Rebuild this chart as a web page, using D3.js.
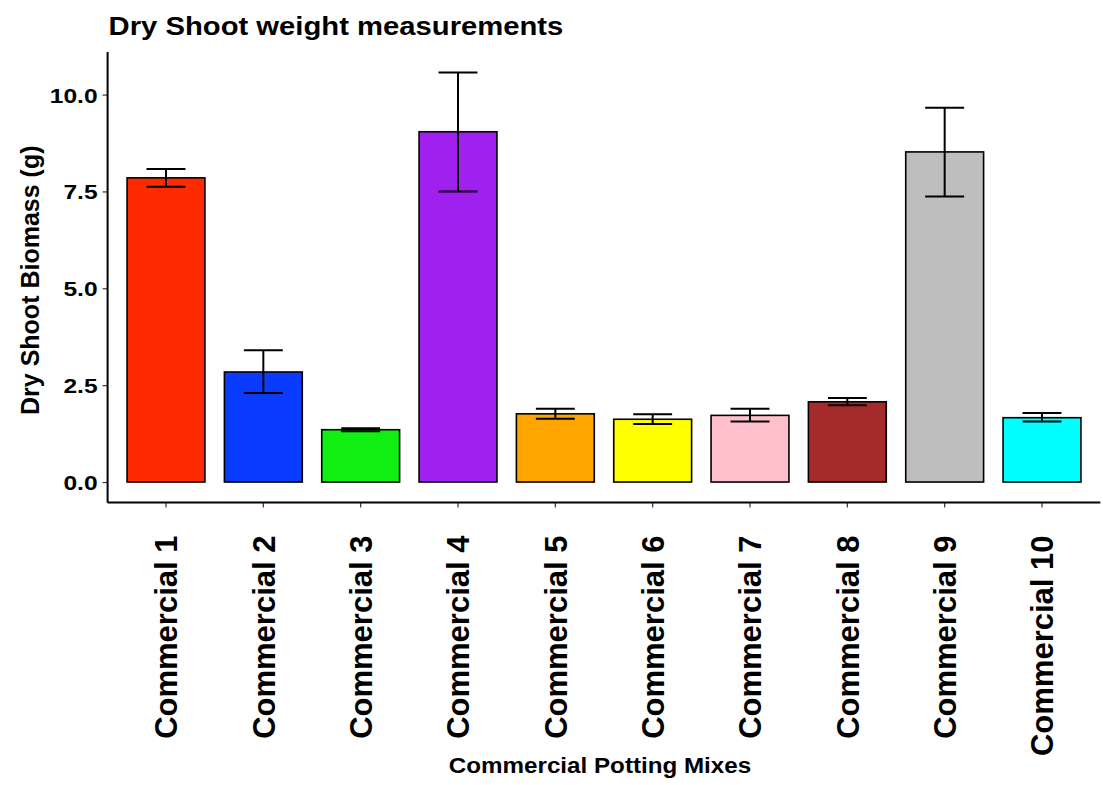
<!DOCTYPE html>
<html>
<head>
<meta charset="utf-8">
<script src="https://cdn.jsdelivr.net/npm/d3@7"></script>
<style>
  body { margin: 0; background: #fff; }
  svg text { font-family: "Liberation Sans", Arial, sans-serif; font-weight: bold; fill: #000; }
</style>
</head>
<body>
<svg id="chart" width="1103" height="785"></svg>
<script>

// Data

const categories = ["Commercial 1", "Commercial 2", "Commercial 3", "Commercial 4", "Commercial 5",
    "Commercial 6", "Commercial 7", "Commercial 8", "Commercial 9", "Commercial 10"];
const means = [7.85, 2.84, 1.35, 9.04, 1.76, 1.62, 1.72, 2.07, 8.52, 1.66];
const lower = [7.62, 2.30, 1.31, 7.50, 1.63, 1.50, 1.56, 1.98, 7.37, 1.56];
const upper = [8.08, 3.40, 1.39, 10.57, 1.89, 1.75, 1.89, 2.17, 9.66, 1.78];
const fills = ["#ff2a00", "#0a3cff", "#11ee11", "#a020f0", "#ffa500",
    "#ffff00", "#ffc0cb", "#a52a2a", "#bebebe", "#00ffff"];
const yTicks = [0, 2.5, 5, 7.5, 10];

const p = {
    left: 107.6,
    right: 1100.4,
    top: 52,
    bottom: 502.5,
    stretch: 1.17   // title and tick text in the picture is a bit wider than it is tall
};

const svg = d3.select("#chart");

const x = d3.scaleBand()
    .domain(categories)
    .range([p.left, p.right])
    .paddingInner(0.2)
    .paddingOuter(0.2);

const yMax = d3.max(upper);
const pad = yMax * 0.05;
const y = d3.scaleLinear()
    .domain([-pad, yMax + pad])
    .range([p.bottom, p.top]);

// Bars

const rows = categories.map((c, i) => ({ c, m: means[i], lo: lower[i], hi: upper[i], fill: fills[i] }));

svg.append("g")
    .selectAll("rect")
    .data(rows)
    .join("rect")
    .attr("x", d => x(d.c))
    .attr("width", x.bandwidth())
    .attr("y", d => y(d.m))
    .attr("height", d => y(0) - y(d.m))
    .attr("fill", d => d.fill)
    .attr("stroke", "#000")
    .attr("stroke-width", 1.6);

// Error bars

const capW = x.step() * 0.4;
const eb = svg.append("g")
    .attr("stroke", "#000")
    .attr("stroke-width", 2)
    .selectAll("g")
    .data(rows)
    .join("g")
    .attr("transform", d => `translate(${x(d.c) + x.bandwidth() / 2},0)`);

eb.append("line")
    .attr("y1", d => y(d.lo))
    .attr("y2", d => y(d.hi));
eb.append("line")
    .attr("x1", -capW / 2).attr("x2", capW / 2)
    .attr("y1", d => y(d.hi)).attr("y2", d => y(d.hi));
eb.append("line")
    .attr("x1", -capW / 2).attr("x2", capW / 2)
    .attr("y1", d => y(d.lo)).attr("y2", d => y(d.lo));

// Axes

const yAxis = svg.append("g")
    .attr("transform", `translate(${p.left},0)`)
    .call(d3.axisLeft(y).tickValues(yTicks).tickFormat(d3.format(".1f")).tickSize(5));
yAxis.select(".domain").remove();
yAxis.selectAll("line").attr("stroke", "#333").attr("stroke-width", 1.2);
yAxis.selectAll("text")
    .style("font-size", "21px")
    .attr("x", 0)
    .attr("dy", "0.36em")
    .attr("transform", `translate(-10,0) scale(${p.stretch},1)`);

const xAxis = svg.append("g")
    .attr("transform", `translate(0,${p.bottom})`)
    .call(d3.axisBottom(x).tickSize(5).tickSizeOuter(0));
xAxis.select(".domain").remove();
xAxis.selectAll("line").attr("stroke", "#333").attr("stroke-width", 1.2);
xAxis.selectAll("text")
    .style("font-size", "31px")
    .attr("text-anchor", "end")
    .attr("x", 0)
    .attr("y", 0)
    .attr("dy", "0.36em")
    .attr("transform", "translate(0,33) rotate(-90)");

svg.append("line")
    .attr("x1", p.left).attr("x2", p.left)
    .attr("y1", p.top).attr("y2", p.bottom)
    .attr("stroke", "#000").attr("stroke-width", 2);
svg.append("line")
    .attr("x1", p.left).attr("x2", p.right)
    .attr("y1", p.bottom).attr("y2", p.bottom)
    .attr("stroke", "#000").attr("stroke-width", 2);

// Titles

svg.append("text")
    .attr("transform", `translate(${p.left + 1},35) scale(${p.stretch},1)`)
    .style("font-size", "25px")
    .text("Dry Shoot weight measurements");

svg.append("text")
    .attr("transform", `translate(39,${(p.top + p.bottom) / 2 + 3}) rotate(-90)`)
    .attr("text-anchor", "middle")
    .style("font-size", "25px")
    .text("Dry Shoot Biomass (g)");

svg.append("text")
    .attr("transform", `translate(${(p.left + p.right) / 2 - 4},773) scale(1.1,1)`)
    .attr("text-anchor", "middle")
    .style("font-size", "22px")
    .text("Commercial Potting Mixes");

</script>
</body>
</html>
